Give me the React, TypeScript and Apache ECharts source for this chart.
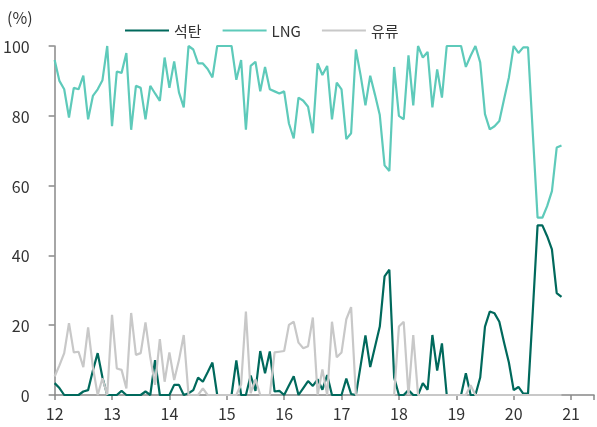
import React, { useEffect, useRef } from "react";
import * as echarts from "echarts";

// Monthly shares (%), Jan 2012 onward
const startYear = 12;
const coal = [
  3.4, 2, 0, 0, 0, 0, 1, 1.4, 7, 12, 5, 0,
  0, 0, 1.2, 0, 0, 0, 0, 1, 0, 10, 0, 0,
  0, 2.9, 2.9, 0, 0.5, 1.4, 5, 3.8, 6.5, 9.3, 0, 0,
  0, 0, 9.9, 0, 0, 5.6, 1.2, 12.6, 6.2, 12.5, 1, 1.2,
  0, 2.7, 5.4, 0, 2, 4, 2.6, 4.5, 1.5, 5.7, 0, 0,
  0, 4.7, 0.3, 0, 8.5, 17.1, 8, 13.8, 19.6, 34, 35.9, 5,
  0, 0, 1.4, 0, 0, 3.4, 1.5, 17.2, 7, 14.8, 0, 0,
  0, 0, 6.2, 0, 0, 5, 19.6, 23.9, 23.4, 21, 15, 9.3,
  1.4, 2.3, 0.4, 0.4, 24, 48.6, 48.6, 45.5, 41.7, 29.2, 28.1,
];
const lng = [
  96, 90, 87.6, 79.5, 88, 87.6, 91.5, 79, 85.7, 87.6, 90.2, 100,
  77, 92.7, 92.3, 98, 76, 88.6, 88, 79, 88.6, 86.4, 84.3, 96.7,
  88, 95.6, 86.7, 82.4, 100, 99, 95, 95, 93.4, 91, 100, 100,
  100, 100, 90.3, 96, 76, 94.3, 95.5, 87, 94, 87.6, 87, 86.4,
  87, 77.8, 73.5, 85.2, 84.3, 82.6, 75, 95, 91.7, 94.3, 79, 89.5,
  87.6, 73.3, 75, 99, 91.5, 83, 91.5, 86, 80.2, 65.8, 64.2, 94,
  80, 79, 97.3, 83, 100, 96.7, 98.3, 82.4, 93.3, 85.2, 100, 100,
  100, 100, 94, 97.2, 100, 95.3, 80.5, 76.1, 77, 78.5, 84.8, 91,
  100, 98, 99.6, 99.6, 75, 50.8, 50.8, 54.1, 58.4, 70.9, 71.5,
];
const oil = [
  5.3, 8.5, 12, 20.6, 12.2, 12.4, 8, 19.4, 8, 0, 4.8, 0,
  23, 7.6, 7.2, 1.9, 23.5, 11.5, 12, 20.8, 10.8, 2.9, 16, 3.8,
  12.2, 4.3, 10, 17.2, 0, 0, 0, 1.9, 0, 0, 0, 0,
  0, 0, 0, 3, 23.9, 0.5, 4.5, 0, 0, 0, 12.2, 12.4,
  12.6, 20.1, 21, 15, 13.4, 14, 22.2, 0, 7.3, 0, 21, 10.8,
  12.2, 21.7, 25.2, 0, 0, 0, 0, 0, 0, 0, 0, 0,
  19.6, 21, 0, 17.2, 0, 0, 0, 0, 0, 0, 0, 0,
  0, 0, 0, 2.8, 0, 0, 0, 0, 0, 0, 0, 0,
  0, 0, 0, 0, 0, 0, 0, 0, 0, 0, 0,
];
const seriesNames = ["석탄", "LNG", "유류"];
const yTicks = [0, 20, 40, 60, 80, 100];

const toPoints = (arr: number[]) => arr.map((v, i) => [startYear + i / 12, v]);

const FONT = "'Noto Sans CJK KR', 'Noto Sans', sans-serif";

export default function App() {
  const ref = useRef<HTMLDivElement>(null);
  useEffect(() => {
    if (!ref.current) return;
    const chart = echarts.init(ref.current, null, { renderer: "svg" });
    const colors = ["#00695c", "#5ecaba", "#c8c8c8"];
    const datas = [coal, lng, oil];
    chart.setOption({
      animation: false,
      textStyle: { fontFamily: FONT },
      grid: { left: 53, right: 0, top: 46, bottom: 32 },
      legend: {
        data: seriesNames,
        left: 120,
        top: 18,
        icon: "rect",
        itemWidth: 44,
        itemHeight: 2,
        itemGap: 21,
        textStyle: { fontSize: 15, color: "#333", fontFamily: FONT },
      },
      graphic: [
        {
          type: "text",
          left: 7,
          top: 9,
          style: { text: "(%)", fontSize: 16, fill: "#333", fontFamily: FONT },
        },
      ],
      xAxis: {
        type: "value",
        min: 12,
        max: 21.4,
        interval: 1,
        axisLine: { show: true, lineStyle: { color: "#888", width: 1.5 } },
        axisTick: { show: true, length: 5, lineStyle: { color: "#888", width: 1.5 } },
        axisLabel: {
          fontSize: 16,
          color: "#333",
          margin: 10,
          formatter: (v: number) => (Number.isInteger(v) ? String(v) : ""),
        },
        splitLine: { show: false },
      },
      yAxis: {
        type: "value",
        min: yTicks[0],
        max: yTicks[yTicks.length - 1],
        interval: 20,
        axisLine: { show: true, lineStyle: { color: "#888", width: 1.5 } },
        axisTick: { show: true, length: 6, lineStyle: { color: "#888", width: 1.5 } },
        axisLabel: { fontSize: 16, color: "#333", margin: 25 },
        splitLine: { show: false },
      },
      series: seriesNames.map((name, k) => ({
        name,
        type: "line",
        data: toPoints(datas[k]),
        showSymbol: false,
        symbol: "none",
        lineStyle: { color: colors[k], width: 2.2 },
        itemStyle: { color: colors[k] },
      })),
    });
    return () => chart.dispose();
  }, []);
  return (
    <div
      ref={ref}
      style={{ position: "fixed", left: 0, top: 0, width: 597, height: 427 }}
    />
  );
}
